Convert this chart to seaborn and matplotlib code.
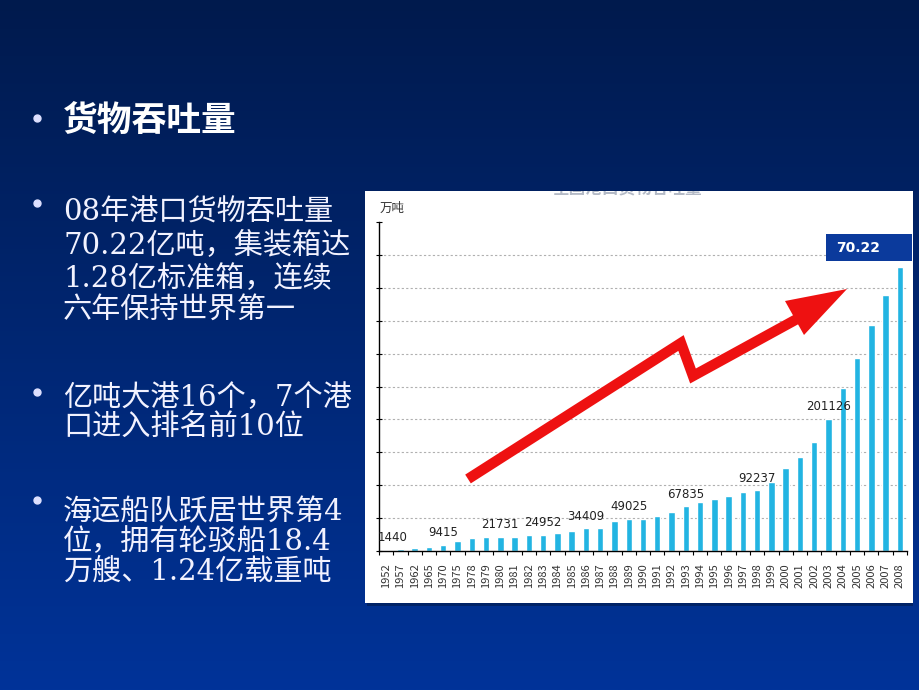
import numpy as np
import pandas as pd
import matplotlib
matplotlib.use("Agg")
import matplotlib.pyplot as plt
import seaborn as sns
from matplotlib.patches import Rectangle, Polygon

# ---------------- data ----------------
years = [1952, 1957, 1962, 1965, 1970, 1975, 1978, 1979, 1980, 1981, 1982, 1983,
         1984, 1985, 1986, 1987, 1988, 1989, 1990, 1991, 1992, 1993, 1994, 1995,
         1996, 1997, 1998, 1999, 2000, 2001, 2002, 2003, 2004, 2005, 2006, 2007, 2008]
values = [1440, 3000, 4600, 6100, 9415, 14800, 19300, 20800, 21731, 21000, 23900, 24952,
          27500, 30500, 34409, 35500, 45000, 49025, 48000, 52500, 59000, 67835, 74000, 78500,
          83500, 90000, 92237, 105000, 126000, 143000, 166000, 201126, 247000, 294000,
          343000, 389000, 431000]
label_years = [1952, 1970, 1980, 1983, 1986, 1989, 1993, 1998, 2003]
unit_label = "万吨"
chart_title = "全国港口货物吞吐量"
badge_text = "70.22"

slide_title = "货物吞吐量"
block1 = ["08年港口货物吞吐量", "70.22亿吨，集装箱达", "1.28亿标准箱，连续", "六年保持世界第一"]
block2 = ["亿吨大港16个，7个港", "口进入排名前10位"]
block3 = ["海运船队跃居世界第4", "位，拥有轮驳船18.4", "万艘、1.24亿载重吨"]

BAR = "#22b4e2"
RED = "#ee1111"

sns.set_theme(style="white")
plt.rcParams["font.family"] = ["Noto Sans CJK SC", "DejaVu Sans"]

W, H = 920, 690
fig = plt.figure(figsize=(9.2, 6.9), dpi=100)

# ---------------- slide background (gradient) ----------------
bg = fig.add_axes([0, 0, 1, 1], zorder=0)
t = np.linspace(0, 1, 256)[:, None, None]
top = np.array([0, 26, 77]) / 255
bot = np.array([0, 51, 153]) / 255
img = top + (bot - top) * t
bg.imshow(img, aspect="auto", extent=[0, 1, 0, 1])
bg.set_axis_off()

def fx(px):
    return px / W

def fy(py):
    return 1 - py / H

# ---------------- white chart panel ----------------
pl, pr, pt, pb = 365, 913, 191, 603
panel = fig.add_axes([fx(pl), fy(pb), fx(pr - pl), (pb - pt) / H], zorder=1)
panel.set_facecolor("white")
panel.set_xlim(pl, pr)
panel.set_ylim(pb, pt)
panel.set_xticks([])
panel.set_yticks([])
for s in panel.spines.values():
    s.set_visible(False)
panel.text(628, 188, chart_title, fontsize=12, fontweight="bold", color="#b4bac6",
           ha="center", va="center", clip_on=True)

# ---------------- bar chart ----------------
al, ar, at, ab = 379, 907, 222, 551
ax = fig.add_axes([fx(al), fy(ab), fx(ar - al), (ab - at) / H], zorder=2)
ax.set_facecolor("none")
df = pd.DataFrame({"year": [str(y) for y in years], "value": values})
sns.barplot(data=df, x="year", y="value", color=BAR, saturation=1, width=0.45, ax=ax)
ax.set_xlim(-0.5, len(years) - 0.5)
ax.set_ylim(0, 500000)
ax.set_yticks(np.arange(0, 500001, 50000))
ax.set_yticklabels([])
ax.set_xlabel("")
ax.set_ylabel("")
ax.set_axisbelow(True)
ax.grid(axis="y", linestyle=(0, (2, 2)), color="#b0b0b0", linewidth=0.8)
gls = ax.get_ygridlines()
gls[0].set_visible(False)
gls[-1].set_visible(False)
ax.grid(axis="x", visible=False)
for side in ["top", "right"]:
    ax.spines[side].set_visible(False)
for side in ["left", "bottom"]:
    ax.spines[side].set_color("black")
    ax.spines[side].set_linewidth(1.0)
ax.tick_params(axis="x", which="major", length=0, pad=9, labelsize=8,
               labelcolor="#333333", labelrotation=90)
ax.set_xticks(np.arange(-0.5, len(years), 1), minor=True)
ax.tick_params(axis="x", which="minor", bottom=True, length=3, width=0.8,
               color="black", direction="out")
ax.tick_params(axis="y", which="major", left=True, length=4, width=0.8,
               color="black", direction="inout")

for i, yr in enumerate(label_years):
    idx = years.index(yr)
    v = values[idx]
    dx = 5 if idx == 0 else 0
    ax.annotate(f"{v}", (idx, v), xytext=(dx, 4), textcoords="offset points",
                ha="center", va="bottom", fontsize=8.5, color="#222222",
                family=["Liberation Sans Narrow", "DejaVu Sans"])

# ---------------- overlay (pixel coordinates) ----------------
ov = fig.add_axes([0, 0, 1, 1], zorder=5)
ov.set_xlim(0, W)
ov.set_ylim(H, 0)
ov.set_axis_off()
ov.patch.set_alpha(0)

# panel shadow
ov.add_patch(Rectangle((367, 603), 546, 3, color="#001f5c", alpha=0.8, lw=0))

# unit label
ov.text(380, 208, unit_label, fontsize=9, color="#333333", ha="left", va="center")

# red zig-zag arrow
ov.plot([468, 681, 693, 797], [479, 343, 376, 319], color=RED, lw=7.5,
        solid_joinstyle="miter", solid_capstyle="butt")
ov.add_patch(Polygon([[847, 289], [785, 301], [804, 335]], closed=True,
                     color=RED, lw=0))

# badge
ov.add_patch(Rectangle((826, 234), 86, 27, color="#0b3a9c", lw=0))
ov.text(836, 248, badge_text, fontsize=10, fontweight="bold", color="white",
        ha="left", va="center", family=["DejaVu Sans"])

# slide text
BUL = "#dde0ff"
ov.plot([37], [118], "o", ms=5, color=BUL)
ov.text(63, 118 + 13, slide_title, fontsize=25, fontweight="bold", color="white",
        ha="left", va="baseline")

body_font = ["DejaVu Serif", "Noto Sans CJK SC"]
body_size = 21
for bul_y, lines, centers in [
    (203, block1, [210, 243, 276, 307]),
    (392, block2, [395, 424]),
    (500, block3, [509, 539, 569]),
]:
    ov.plot([37], [bul_y], "o", ms=5, color=BUL)
    for ln, cy in zip(lines, centers):
        ov.text(63, cy + 11, ln, fontsize=body_size, color="#f2f2ff",
                ha="left", va="baseline", family=body_font)

fig.savefig("out.png", dpi=100)
